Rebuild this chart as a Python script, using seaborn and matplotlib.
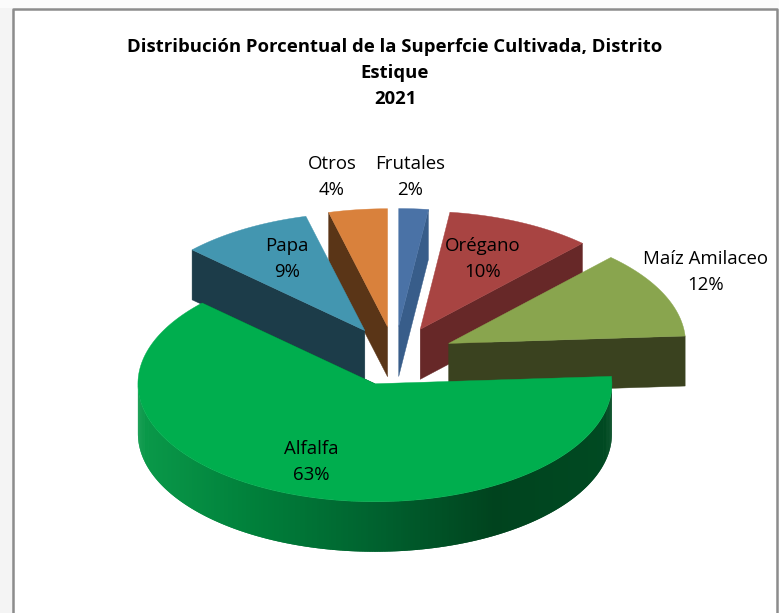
import numpy as np
import matplotlib
matplotlib.use("Agg")
import matplotlib.pyplot as plt
import seaborn as sns

# Slices in clockwise order from 12 o'clock
categories = ["Frutales", "Orégano", "Maíz Amilaceo", "Alfalfa", "Papa", "Otros"]
percent = [2, 10, 12, 63, 9, 4]
title_lines = "Distribución Porcentual de la Superfcie Cultivada, Distrito\nEstique\n2021"

top_colors = ["#4a72a6", "#a84442", "#89a54e", "#00ae4e", "#4396b0", "#d9813c"]
cut_colors = ["#385d8a", "#672828", "#3a421f", "#00441f", "#1c3c49", "#5a3517"]
alfalfa_wall = ["#0a9a4a", "#007f3a", "#00622f", "#00431e", "#004a22"]

# Projection of the pie onto the page, in pixels
CX, CY = 395, 356
RX, RY = 237, 118
DEPTH = 50
EXPLODE = 0.25
DRAW_ORDER = ["Frutales", "Otros", "Orégano", "Papa", "Maíz Amilaceo", "Alfalfa"]

label_xy = {
    "Otros": (332, 177),
    "Frutales": (410, 177),
    "Orégano": (483, 259),
    "Maíz Amilaceo": (706, 272),
    "Alfalfa": (311, 462),
    "Papa": (287, 259),
}


def project(theta, ox, oy):
    # theta in degrees, clockwise from the top
    t = np.radians(theta)
    return ox + RX * np.sin(t), oy - RY * np.cos(t)


def draw_cut(ax, p, apex, color):
    xs = [apex[0], p[0], p[0], apex[0]]
    ys = [apex[1], p[1], p[1] + DEPTH, apex[1] + DEPTH]
    ax.fill(xs, ys, color=color, lw=0.3, zorder=2)


def draw_slice(ax, start, end, top, cut, wall_palette=None):
    mid = np.radians((start + end) / 2)
    ox = CX + EXPLODE * RX * np.sin(mid)
    oy = CY - EXPLODE * RY * np.cos(mid)
    p0 = project(start, ox, oy)
    p1 = project(end, ox, oy)

    # Radial faces: only the ones that look at the viewer
    if start < 180:
        draw_cut(ax, p1, (ox, oy), cut)
    else:
        draw_cut(ax, p0, (ox, oy), cut)

    # Outer wall, front half only. Strips overlap by one so no seams show
    lo, hi = max(start, 90), min(end, 270)
    if hi > lo:
        thetas = np.linspace(lo, hi, 300)
        xs, ys = project(thetas, ox, oy)
        x_stop = np.linspace(xs.min(), xs.max(), len(wall_palette))
        rgb = np.array(wall_palette)
        for i in range(len(thetas) - 2):
            xm = xs[i + 1]
            col = [np.interp(xm, x_stop, rgb[:, k]) for k in range(3)]
            ax.fill([xs[i], xs[i + 2], xs[i + 2], xs[i]],
                    [ys[i], ys[i + 2], ys[i + 2] + DEPTH, ys[i] + DEPTH],
                    color=col, lw=0, zorder=2)

    thetas = np.linspace(start, end, 200)
    xs, ys = project(thetas, ox, oy)
    ax.fill(np.r_[ox, xs], np.r_[oy, ys], color=top, lw=0.3, zorder=3)


sns.set_theme(style="white")
plt.rcParams["font.family"] = ["Open Sans", "DejaVu Sans"]

fig = plt.figure(figsize=(7.79, 6.13), dpi=100, facecolor="white")
ax = fig.add_axes([0, 0, 1, 1])
ax.set_xlim(0, 779)
ax.set_ylim(613, 0)
ax.axis("off")

# Sheet margin and chart frame
ax.axvspan(0, 13, color="#f4f4f4", lw=0, zorder=0)
ax.axhspan(0, 7.5, color="#fbfbfb", lw=0, zorder=0)
ax.plot([13, 13, 777, 777], [613, 8.5, 8.5, 613], color="#8c8c8c", lw=1.8, zorder=1)

edges = np.r_[0, np.cumsum(percent)] * 3.6
spans = {c: (edges[i], edges[i + 1]) for i, c in enumerate(categories)}
wall_rgb = sns.blend_palette(alfalfa_wall, n_colors=5)

for name in DRAW_ORDER:
    i = categories.index(name)
    start, end = spans[name]
    draw_slice(ax, start, end, top_colors[i], cut_colors[i], wall_rgb)

for name, pct in zip(categories, percent):
    x, y = label_xy[name]
    ax.text(x, y, f"{name}\n{pct}%", ha="center", va="center", fontsize=13.4,
            color="black", linespacing=1.52, zorder=5)

ax.text(395, 73, title_lines, ha="center", va="center", fontsize=13.3,
        fontweight="bold", color="black", linespacing=1.58, zorder=5)

fig.savefig("out.png", dpi=100)
